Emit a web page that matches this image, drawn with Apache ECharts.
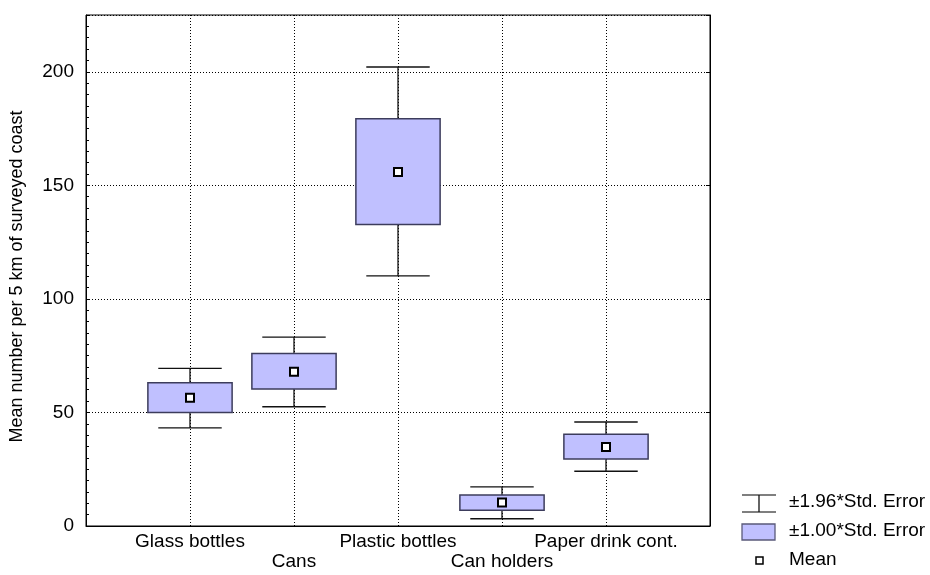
<!DOCTYPE html>
<html>
<head>
<meta charset="utf-8">
<script src="https://cdn.jsdelivr.net/npm/echarts@6/dist/echarts.min.js"></script>
<style>
  html, body { margin: 0; padding: 0; background: #fff; }
  #chart { width: 930px; height: 575px; }
</style>
</head>
<body>
<div id="chart"></div>
<script>
// categories sit on slots 1..5, slots 0 and 6 are empty padding
const categories = ["", "Glass bottles", "Cans", "Plastic bottles", "Can holders", "Paper drink cont.", ""];
// per category: mean, ±1.00*SE box, ±1.96*SE whiskers
const means    = [56.5, 67.9, 155.9, 10.3, 34.8];
const boxLow   = [50.0, 60.3, 132.8, 6.9, 29.5];
const boxHigh  = [63.1, 76.0, 179.3, 13.6, 40.4];
const whiskLow = [43.2, 52.5, 110.1, 3.2, 24.1];
const whiskHigh = [69.4, 83.2, 202.1, 17.2, 45.8];
const yTicks = [0, 50, 100, 150, 200];

const FONT = "Liberation Sans, Arial, sans-serif";
const FS = 19;
const chart = echarts.init(document.getElementById("chart"));

const seriesData = means.map((m, i) => [i + 1, whiskLow[i], boxLow[i], m, boxHigh[i], whiskHigh[i]]);

function renderBox(params, api) {
  const x = api.value(0);
  const slot = api.size([1, 0])[0];
  const pLo = api.coord([x, api.value(1)]);
  const pQ1 = api.coord([x, api.value(2)]);
  const pM = api.coord([x, api.value(3)]);
  const pQ3 = api.coord([x, api.value(4)]);
  const pHi = api.coord([x, api.value(5)]);
  const bw = slot * 0.81;
  const cw = slot * 0.61;
  const cx = pM[0];
  const line = { stroke: "#111", lineWidth: 1.3 };
  return {
    type: "group",
    children: [
      { type: "line", shape: { x1: cx, y1: pLo[1], x2: cx, y2: pHi[1] }, style: line },
      { type: "line", shape: { x1: cx - cw / 2, y1: pLo[1], x2: cx + cw / 2, y2: pLo[1] }, style: line },
      { type: "line", shape: { x1: cx - cw / 2, y1: pHi[1], x2: cx + cw / 2, y2: pHi[1] }, style: line },
      {
        type: "rect",
        shape: { x: cx - bw / 2, y: pQ3[1], width: bw, height: pQ1[1] - pQ3[1] },
        style: { fill: "#c0c0ff", stroke: "#3c3c5c", lineWidth: 1.5 }
      },
      {
        type: "rect",
        shape: { x: cx - 4, y: pM[1] - 4, width: 8, height: 8 },
        style: { fill: "#fff", stroke: "#000", lineWidth: 2 }
      }
    ]
  };
}

const legendX = 742, legendTextX = 789;
const legendText = (y, t) => ({
  type: "text", left: legendTextX, top: y - 11,
  style: { text: t, font: FS + "px " + FONT, fill: "#000" }
});

chart.setOption({
  animation: false,
  grid: {
    left: 86, top: 15, right: 220, bottom: 49,
    outerBoundsMode: "none",
    show: true, borderColor: "#000", borderWidth: 1
  },
  xAxis: {
    type: "category",
    data: categories,
    boundaryGap: false,
    axisLine: { lineStyle: { color: "#000" } },
    axisTick: { show: false },
    axisLabel: {
      interval: 0,
      margin: 6,
      color: "#000",
      fontFamily: FONT,
      fontSize: FS,
      lineHeight: 20,
      formatter: (v, i) => (i % 2 === 0 ? "\n" + v : v)
    },
    splitLine: { show: true, lineStyle: { color: "#000", type: [1, 2], width: 1 } }
  },
  yAxis: [
    {
      type: "value",
      min: 0,
      max: 225,
      interval: 50,
      name: "Mean number per 5 km of surveyed coast",
      nameLocation: "middle",
      nameGap: 60,
      nameTextStyle: { color: "#000", fontFamily: FONT, fontSize: 18, padding: [0, 12, 0, 0] },
      axisLine: { show: true, lineStyle: { color: "#000" } },
      axisTick: { show: true, inside: true, length: 4, lineStyle: { color: "#000" } },
      minorTick: { show: true, splitNumber: 10, length: 3, lineStyle: { color: "#000" } },
      axisLabel: {
        color: "#000", fontFamily: FONT, fontSize: FS, margin: 12,
        formatter: v => (yTicks.includes(v) ? String(v) : "")
      },
      splitLine: { show: true, lineStyle: { color: "#000", type: [1, 2], width: 1 } }
    },
    {
      type: "value",
      position: "right",
      min: 0,
      max: 225,
      interval: 50,
      axisLine: { show: true, lineStyle: { color: "#000" } },
      axisTick: { show: true, inside: true, length: 4, lineStyle: { color: "#000" } },
      minorTick: { show: false },
      axisLabel: { show: false },
      splitLine: { show: false }
    }
  ],
  series: [
    {
      name: "box",
      type: "custom",
      renderItem: renderBox,
      encode: { x: 0, y: [1, 2, 3, 4, 5] },
      data: seriesData,
      z: 5
    }
  ],
  graphic: [
    { type: "line", shape: { x1: legendX, y1: 495, x2: legendX + 34, y2: 495 }, style: { stroke: "#555", lineWidth: 1.3 } },
    { type: "line", shape: { x1: legendX, y1: 512, x2: legendX + 34, y2: 512 }, style: { stroke: "#555", lineWidth: 1.3 } },
    { type: "line", shape: { x1: legendX + 17, y1: 495, x2: legendX + 17, y2: 512 }, style: { stroke: "#111", lineWidth: 1.3 } },
    legendText(503, "±1.96*Std. Error"),
    { type: "rect", shape: { x: legendX, y: 524, width: 33, height: 16 }, style: { fill: "#c0c0ff", stroke: "#5a5a7a", lineWidth: 1.3 } },
    legendText(532, "±1.00*Std. Error"),
    { type: "rect", shape: { x: legendX + 14, y: 557, width: 7, height: 7 }, style: { fill: "#fff", stroke: "#000", lineWidth: 1.5 } },
    legendText(561, "Mean")
  ]
});
</script>
</body>
</html>
